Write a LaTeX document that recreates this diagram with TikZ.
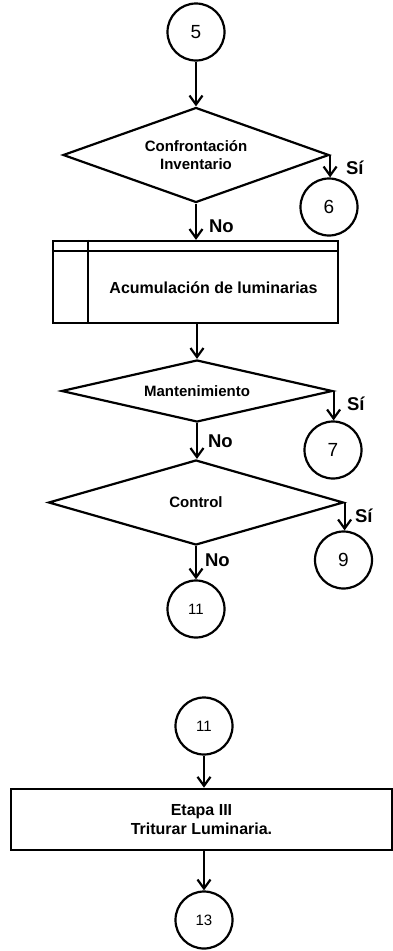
\documentclass[tikz,border=0pt]{standalone}
\usepackage{fontspec}
\setmainfont{Liberation Sans}
\usetikzlibrary{shapes.geometric,arrows.meta,positioning,calc}

\begin{document}
\begin{tikzpicture}[x=1pt,y=-1pt,line width=2.2pt,
  >={Straight Barb[length=9pt,width=13pt]},
  conn/.style={draw, circle, minimum size=57pt, inner sep=0pt},
  decision/.style={draw, diamond, aspect=3, inner sep=0pt, align=center,
    font=\fontsize{15}{17.4}\selectfont\bfseries},
  procbox/.style={draw, rectangle, inner sep=0pt, align=center,
    font=\fontsize{16}{19}\selectfont\bfseries},
  answer/.style={anchor=west, inner sep=0pt, font=\fontsize{18.5}{20}\selectfont\bfseries}]
\useasboundingbox (0,0) rectangle (393,951);

% Connectors and decisions
\node[conn, font=\fontsize{19}{20}\selectfont] (c5) at (196,32) {5};
\node[decision, minimum width=266pt, minimum height=95pt] (conf) at (196,155) {Confrontación\\Inventario};
\node[conn, font=\fontsize{19}{20}\selectfont] (c6) at (329,207) {6};

% Predefined process
\node[procbox, minimum width=285pt, minimum height=82pt] (acum) at (195.5,282) {};
\draw ([xshift=36pt]acum.north west) -- ([xshift=36pt]acum.south west);
\draw ([yshift=-11pt]acum.north west) -- ([yshift=-11pt]acum.north east);
\node[procbox, draw=none] (acumtxt) at ($(acum.south east)!0.5!([xshift=36pt,yshift=-11pt]acum.north west)$) {Acumulación de luminarias};

\node[decision, aspect=4, minimum width=271pt, minimum height=62pt] (mant) at (197,391) {Mantenimiento};
\node[conn, font=\fontsize{19}{20}\selectfont] (c7) at (333,450) {7};

\node[decision, aspect=4, minimum width=295pt, minimum height=85pt] (ctrl) at (196,502.5) {Control};
\node[conn, font=\fontsize{19}{20}\selectfont] (c9) at (343.5,560) {9};
\node[conn, font=\fontsize{15}{16}\selectfont] (c11) at (196,609) {11};

% Second page part
\node[conn, font=\fontsize{15}{16}\selectfont] (c11b) at (204,726) {11};
\node[procbox, line width=2.6pt, minimum width=381pt, minimum height=61pt] (trit) at (201.5,819.5) {Etapa III\\Triturar Luminaria.};
\node[conn, font=\fontsize{15}{16}\selectfont] (c13) at (204,920) {13};

% Arrows
\draw[->] (c5) -- (conf);
\draw[->] (conf.east) -- (conf.east |- c6.north);
\draw[->] (conf.south) -- (conf.south |- acum.north);
\draw[->] (mant.north |- acum.south) -- (mant.north);
\draw[->] (mant.east) -- (mant.east |- c7.north);
\draw[->] (mant.south) -- (mant.south |- ctrl.north);
\draw[->] (ctrl.east) -- (ctrl.east |- c9.north);
\draw[->] (ctrl.south) -- (ctrl.south |- c11.north);
\draw[->] (c11b.south) -- (c11b.south |- trit.north);
\draw[->] (c13.north |- trit.south) -- (c13.north);

% Labels
\node[answer] (si1) at (345,168) {Sí};
\node[answer] (no1) at (208,226) {No};
\node[answer] (si2) at (346,404) {Sí};
\node[answer] (no2) at (207,441) {No};
\node[answer] (si3) at (354,516) {Sí};
\node[answer] (no3) at (204,560) {No};

\end{tikzpicture}
\end{document}
